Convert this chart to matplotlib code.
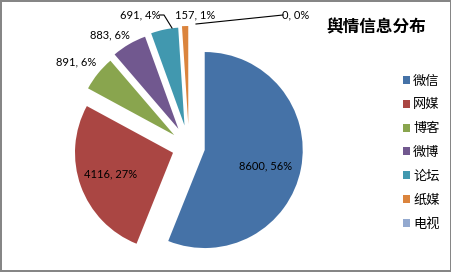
# Exploded pie of public-opinion sources, Excel 2007 look.
import matplotlib
matplotlib.use("Agg")
import matplotlib.pyplot as plt

plt.rcParams["font.family"] = ["Noto Sans CJK SC", "DejaVu Sans"]

CATEGORIES = ["微信", "网媒", "博客", "微博", "论坛", "纸媒", "电视"]
COUNTS = [8600, 4116, 891, 883, 691, 157, 0]
PERCENTS = [56, 27, 6, 6, 4, 1, 0]  # as printed by Excel
COLORS = ["#4572A7", "#AA4643", "#89A54E", "#71588F", "#4198AF", "#DB843D", "#93A9CF"]
TITLE = "舆情信息分布"

W, H = 452, 272
CENTER = (189, 125)  # pixel units, y measured from bottom
RADIUS = 98
EXPLODE = [16, 17, 19, 21, 22, 23, 23]  # pixels

fig = plt.figure(figsize=(W / 100, H / 100), dpi=100)
fig.patch.set_edgecolor("#868686")
fig.patch.set_linewidth(1.5)
ax = fig.add_axes([0, 0, 1, 1])

labels = [f"{v}, {p}%" for v, p in zip(COUNTS, PERCENTS)]

wedges, texts = ax.pie(
    COUNTS,
    colors=COLORS,
    startangle=90,
    counterclock=False,
    explode=EXPLODE,
    radius=RADIUS,
    center=CENTER,
    labels=labels,
    labeldistance=0.6,
    wedgeprops={"linewidth": 0},
    textprops={"fontsize": 8, "color": "black", "family": ["Lato", "DejaVu Sans"]},
    frame=True,
)
ax.set_xlim(0, W)
ax.set_ylim(0, H)
ax.axis("off")

# Excel placed the small slices' labels outside the pie
label_pos = {0: (266, 106), 1: (111, 98), 2: (76, 210), 3: (110, 237),
             4: (140, 257), 5: (195, 257), 6: (296, 257)}
for i, pos in label_pos.items():
    texts[i].set_position(pos)
    texts[i].set_ha("center")
    texts[i].set_va("center")

# leader lines
ax.plot([159, 164, 172], [257, 257, 244], color="black", lw=0.8)
ax.plot([283, 196], [257, 248], color="black", lw=0.8)

ax.text(376, 245, TITLE, fontsize=12, fontweight="bold", ha="center", va="center")

ax.legend(
    wedges,
    CATEGORIES,
    loc="upper left",
    bbox_to_anchor=(396 / W, 204 / H),
    frameon=False,
    fontsize=9.5,
    handlelength=0.55,
    handleheight=0.55,
    handletextpad=0.25,
    labelspacing=0.82,
    borderpad=0,
)

fig.savefig("out.png", dpi=100, edgecolor=fig.get_edgecolor())
